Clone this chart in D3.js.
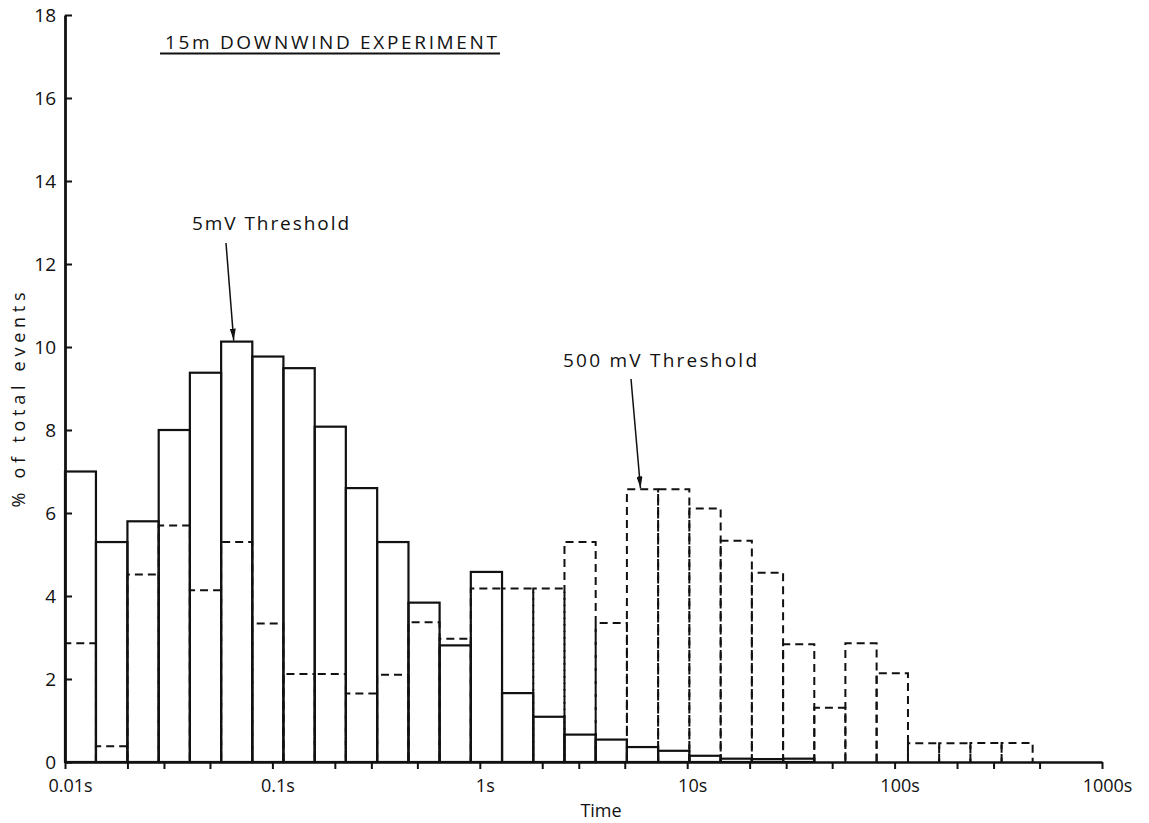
<!DOCTYPE html>
<html>
<head>
<meta charset="utf-8">
<script src="https://cdn.jsdelivr.net/npm/d3@7/dist/d3.min.js"></script>
<style>
  html, body { margin: 0; padding: 0; background: #fff; }
  svg { display: block; }
  text { font-family: "Open Sans", "DejaVu Sans", sans-serif; fill: #111; }
</style>
</head>
<body>
<svg id="chart" width="1149" height="823"></svg>
<script>
// ---- data ----
// bin edges (seconds), bins grow by a factor of ~sqrt(2)
const binEdges = [0.01, 0.0141, 0.02, 0.0283, 0.04, 0.0566, 0.08, 0.113, 0.16, 0.226,
  0.32, 0.453, 0.64, 0.905, 1.28, 1.81, 2.56, 3.62, 5.12, 7.24, 10.24, 14.5, 20.5, 29,
  41, 57.9, 81.9, 116, 164, 232, 328, 463];
// 5 mV threshold (solid outline), % of total events
const solid5mV = [7.0, 5.3, 5.8, 8.0, 9.38, 10.13, 9.77, 9.49, 8.08, 6.6,
  5.3, 3.84, 2.81, 4.58, 1.66, 1.09, 0.66, 0.54, 0.36, 0.27,
  0.15, 0.08, 0.07, 0.08, 0, 0, 0, 0, 0, 0, 0];
// 500 mV threshold (dashed outline), % of total events
const dashed500mV = [2.86, 0.38, 4.52, 5.7, 4.14, 5.3, 3.34, 2.12, 2.12, 1.65,
  2.1, 3.37, 2.97, 4.18, 4.18, 4.18, 5.3, 3.35, 6.57, 6.57,
  6.11, 5.33, 4.56, 2.84, 1.31, 2.86, 2.14, 0.45, 0.45, 0.46, 0.46];
const majorTicks = [0.01, 0.1, 1, 10, 100, 1000];
const majorLabels = ["0.01s", "0.1s", "1s", "10s", "100s", "1000s"];
const minorTicks = [0.02, 0.03, 0.05, 0.2, 0.3, 0.5, 2, 3, 5, 20, 30, 50, 200, 300, 500];
const yTicks = [0, 2, 4, 6, 8, 10, 12, 14, 16, 18];
const title = "15m DOWNWIND EXPERIMENT";
const yTitle = "% of total events";
const xTitle = "Time";
const label5 = "5mV Threshold";
const label500 = "500 mV Threshold";

// ---- scales ----
const svg = d3.select("#chart");
const x = d3.scaleLog().domain([0.01, 1000]).range([65, 1102]);
const y = d3.scaleLinear().domain([0, 18]).range([762, 15]);

const bins = binEdges.slice(0, -1).map((e, i) => ({
  x0: e, x1: binEdges[i + 1], s: solid5mV[i], d: dashed500mV[i]
}));

// dashed histogram (open outline: left, top, right)
svg.append("g").selectAll("path").data(bins.filter(b => b.d > 0)).join("path")
  .attr("d", b => `M${x(b.x0)},${y(0)}V${y(b.d)}H${x(b.x1)}V${y(0)}`)
  .attr("fill", "none").attr("stroke", "#111").attr("stroke-width", 2)
  .attr("stroke-dasharray", "8,5");

// solid histogram
svg.append("g").selectAll("rect").data(bins.filter(b => b.s > 0)).join("rect")
  .attr("x", b => x(b.x0)).attr("width", b => x(b.x1) - x(b.x0))
  .attr("y", b => y(b.s)).attr("height", b => y(0) - y(b.s))
  .attr("fill", "none").attr("stroke", "#111").attr("stroke-width", 2.2);

// ---- axes ----
const xAxisMajor = d3.axisBottom(x).tickValues(majorTicks)
  .tickFormat((d, i) => majorLabels[i]).tickSize(7).tickPadding(10).tickSizeOuter(0);
const gx = svg.append("g").attr("transform", `translate(0,${y(0)})`).call(xAxisMajor);
gx.select(".domain").attr("stroke", "#111").attr("stroke-width", 2.5);
gx.selectAll(".tick line").attr("stroke", "#111").attr("stroke-width", 2);
gx.selectAll(".tick text").attr("font-size", 18).attr("dx", 5)
  .style("font-family", '"Open Sans", "DejaVu Sans", sans-serif').attr("fill", "#111");

const xAxisMinor = d3.axisBottom(x).tickValues(minorTicks).tickFormat("").tickSize(7).tickSizeOuter(0);
const gxm = svg.append("g").attr("transform", `translate(0,${y(0)})`).call(xAxisMinor);
gxm.select(".domain").remove();
gxm.selectAll(".tick line").attr("stroke", "#111").attr("stroke-width", 2);

const yAxis = d3.axisRight(y).tickValues(yTicks).tickSize(7).tickSizeOuter(0).tickFormat("");
const gy = svg.append("g").attr("transform", `translate(${x(0.01)},0)`).call(yAxis);
gy.select(".domain").attr("stroke", "#111").attr("stroke-width", 2.8);
gy.selectAll(".tick line").attr("stroke", "#111").attr("stroke-width", 2);
svg.append("g").selectAll("text").data(yTicks).join("text")
  .attr("x", x(0.01) - 9).attr("y", d => y(d)).attr("dy", "0.35em")
  .attr("text-anchor", "end").attr("font-size", 19).text(d => d);

// ---- titles ----
svg.append("text").attr("x", 165).attr("y", 49).attr("font-size", 19)
  .attr("textLength", 332).attr("lengthAdjust", "spacing").text(title);
svg.append("line").attr("x1", 160).attr("x2", 500).attr("y1", 53.5).attr("y2", 53.5)
  .attr("stroke", "#111").attr("stroke-width", 2);

svg.append("text").attr("transform", "translate(25,400) rotate(-90)")
  .attr("text-anchor", "middle").attr("font-size", 18)
  .attr("textLength", 215).attr("lengthAdjust", "spacing").text(yTitle);
svg.append("text").attr("x", 601).attr("y", 817).attr("text-anchor", "middle")
  .attr("font-size", 18).text(xTitle);

// ---- annotations ----
svg.append("defs").append("marker").attr("id", "ah")
  .attr("viewBox", "0 0 12 6").attr("refX", 12).attr("refY", 3)
  .attr("markerWidth", 12).attr("markerHeight", 6).attr("markerUnits", "userSpaceOnUse")
  .attr("orient", "auto")
  .append("path").attr("d", "M0,0L12,3L0,6Z").attr("fill", "#111");

svg.append("text").attr("x", 192).attr("y", 230).attr("font-size", 19)
  .attr("textLength", 157).attr("lengthAdjust", "spacing").text(label5);
const b5 = bins[5];
svg.append("line").attr("x1", 226).attr("y1", 243)
  .attr("x2", (x(b5.x0) + x(b5.x1)) / 2 - 3).attr("y2", y(b5.s) - 1)
  .attr("stroke", "#111").attr("stroke-width", 1.5).attr("marker-end", "url(#ah)");

svg.append("text").attr("x", 563).attr("y", 367).attr("font-size", 19)
  .attr("textLength", 194).attr("lengthAdjust", "spacing").text(label500);
const b18 = bins[18];
svg.append("line").attr("x1", 631).attr("y1", 379)
  .attr("x2", (x(b18.x0) + x(b18.x1)) / 2 - 2).attr("y2", y(b18.d) - 1)
  .attr("stroke", "#111").attr("stroke-width", 1.5).attr("marker-end", "url(#ah)");
</script>
</body>
</html>
